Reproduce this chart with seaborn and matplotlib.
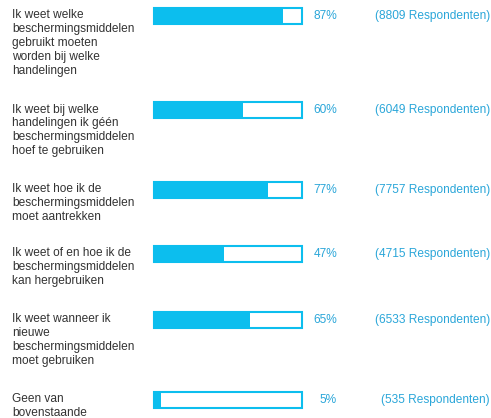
import matplotlib
matplotlib.use("Agg")
import matplotlib.pyplot as plt
import seaborn as sns
import pandas as pd

# --- datos ---
labels = [
    "Ik weet welke\nbeschermingsmiddelen\ngebruikt moeten\nworden bij welke\nhandelingen",
    "Ik weet bij welke\nhandelingen ik géén\nbeschermingsmiddelen\nhoef te gebruiken",
    "Ik weet hoe ik de\nbeschermingsmiddelen\nmoet aantrekken",
    "Ik weet of en hoe ik de\nbeschermingsmiddelen\nkan hergebruiken",
    "Ik weet wanneer ik\nnieuwe\nbeschermingsmiddelen\nmoet gebruiken",
    "Geen van\nbovenstaande",
]
percent = [87, 60, 77, 47, 65, 5]
respondents = [8809, 6049, 7757, 4715, 6533, 535]

# --- layout (pixel rows, figure is 491x418) ---
row_y = [16, 110, 190, 254, 320, 400]
BAR_H = 16
CYAN = "#0cbeee"
TEXT_BLUE = "#2aa6d9"
DARK = "#333333"

sns.set_style("white")
plt.rcParams["font.family"] = ["Liberation Sans", "DejaVu Sans"]

fig = plt.figure(figsize=(4.91, 4.18), dpi=100)
ax = fig.add_axes([0, 0, 1, 1])

df = pd.DataFrame({"row": row_y, "pct": percent, "full": [100] * len(row_y)})
min_gap = min(b - a for a, b in zip(row_y[:-1], row_y[1:]))
w = BAR_H / min_gap

# contorno (100%) y relleno (%)
sns.barplot(data=df, x="full", y="row", orient="y", native_scale=True, width=w,
            color="white", edgecolor=CYAN, linewidth=1.5, saturation=1, ax=ax)
sns.barplot(data=df, x="pct", y="row", orient="y", native_scale=True, width=w,
            color=CYAN, linewidth=0, saturation=1, ax=ax)

# 0 -> px 154, 100 -> px 302
scale = 1.48
x0 = 154
ax.set_xlim(-x0 / scale, (491 - x0) / scale)
ax.set_ylim(418, 0)
ax.axis("off")

def px(x):
    return (x - x0) / scale

for lab, y, p, r in zip(labels, row_y, percent, respondents):
    ax.text(px(12), y - 6.5, lab, ha="left", va="top", fontsize=8.6,
            color=DARK, linespacing=1.22)
    ax.text(px(337), y, f"{p}%", ha="right", va="center", fontsize=8.6,
            color=TEXT_BLUE)
    ax.text(px(490), y, f"({r} Respondenten)", ha="right", va="center",
            fontsize=8.6, color=TEXT_BLUE)

fig.savefig("out.png", dpi=100)
